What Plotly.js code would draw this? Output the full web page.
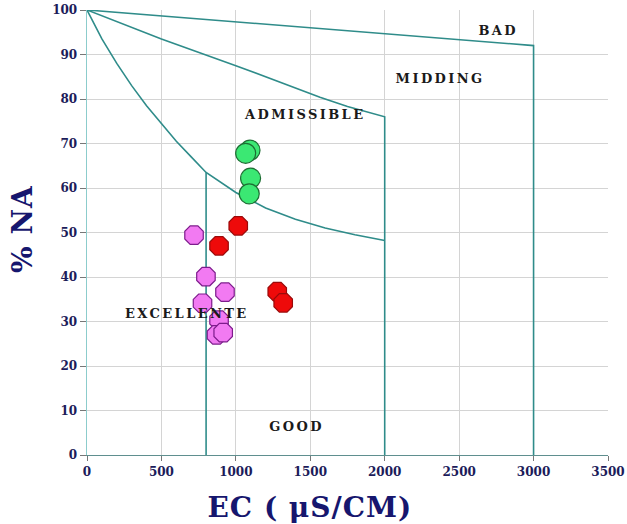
<!DOCTYPE html>
<html>
<head>
<meta charset="utf-8">
<script src="https://cdn.plot.ly/plotly-3.0.1.min.js"></script>
<style>
  html, body { margin: 0; padding: 0; background: #fff; }
  #chart { width: 627px; height: 524px; }
  .zone-label .annotation-text { letter-spacing: 2.4px; }
  .axis-label .annotation-text { letter-spacing: 1px; }
</style>
</head>
<body>
<div id="chart"></div>
<script>
// Wilcox-style classification: sodium percentage against electrical conductivity
const greenEC = [1095, 1066, 1099, 1090];
const greenNA = [68.5, 67.8, 62.2, 58.7];
const redEC = [1016, 887, 1278, 1318];
const redNA = [51.5, 47.0, 36.7, 34.2];
const violetEC = [719, 799, 927, 776, 887, 870, 915];
const violetNA = [49.4, 40.1, 36.6, 34.1, 30.3, 27.0, 27.5];

// class boundaries
const badEC = [0, 3000, 3000];
const badNA = [100, 92, 0];
const midEC = [0, 500, 1000, 1565, 1750, 2000, 2000];
const midNA = [100, 93.5, 87.5, 80.4, 78.3, 76, 0];
const admEC = [0, 100, 200, 300, 400, 500, 600, 700, 800, 1000, 1200, 1400, 1600, 1800, 2000];
const admNA = [100, 93.5, 88, 83, 78.5, 74.5, 70.5, 67, 63.5, 59, 55.5, 53, 51, 49.5, 48.2];
const excEC = [800, 800];
const excNA = [0, 63.5];

const zoneNames = ['BAD', 'MIDDING', 'ADMISSIBLE', 'EXCELLENTE', 'GOOD'];
const zoneEC = [2760, 2370, 1464, 672, 1404];
const zoneNA = [95.5, 84.7, 76.6, 31.7, 6.5];

const xTicks = [0, 500, 1000, 1500, 2000, 2500, 3000, 3500];
const yTicks = [0, 10, 20, 30, 40, 50, 60, 70, 80, 90, 100];

const lineColor = '#2f8c8a';
const serif = '"DejaVu Serif", "Liberation Serif", serif';

function boundary(x, y) {
  return { x: x, y: y, mode: 'lines', type: 'scatter', hoverinfo: 'skip',
           showlegend: false, line: { color: lineColor, width: 1.6 } };
}
function samples(x, y, symbol, fill, edge) {
  return { x: x, y: y, mode: 'markers', type: 'scatter', showlegend: false,
           marker: { symbol: symbol, size: 20, color: fill, line: { color: edge, width: 1.2 } } };
}

const data = [
  boundary(badEC, badNA),
  boundary(midEC, midNA),
  boundary(admEC, admNA),
  boundary(excEC, excNA),
  samples(greenEC, greenNA, 'circle', '#3be873', '#1d6e33'),
  samples(redEC, redNA, 'octagon', '#ee0a0a', '#9a0a0a'),
  samples(violetEC, violetNA, 'octagon', '#f27af2', '#7d1c8c')
];

const annotations = zoneNames.map((t, i) => ({
  x: zoneEC[i], y: zoneNA[i], xref: 'x', yref: 'y', text: t, showarrow: false,
  xanchor: 'center', yanchor: 'middle',
  font: { family: serif, size: 13, color: '#1a1a1a', weight: 'bold' }
}));
annotations.push({
  xref: 'paper', yref: 'paper', x: 0.428, y: -0.119, xanchor: 'center', yanchor: 'middle',
  text: 'EC ( \u03bcS/CM)', showarrow: false,
  font: { family: serif, size: 28, color: '#16166e', weight: 'bold' }
});
annotations.push({
  xref: 'paper', yref: 'paper', x: -0.125, y: 0.51, xanchor: 'center', yanchor: 'middle',
  text: '% NA', showarrow: false, textangle: -90,
  font: { family: serif, size: 28, color: '#16166e', weight: 'bold' }
});

const tickFont = { family: serif, size: 12, color: '#1c1c5a', weight: 'bold' };

const layout = {
  width: 627, height: 524,
  margin: { l: 87, r: 19, t: 10, b: 69 },
  paper_bgcolor: '#ffffff', plot_bgcolor: '#ffffff',
  xaxis: {
    range: [0, 3500], tickvals: xTicks, ticktext: xTicks.map(String),
    showgrid: true, gridcolor: '#d4d4d4', gridwidth: 1, zeroline: false,
    showline: true, linecolor: '#5f8f8f', linewidth: 1.2,
    ticks: 'outside', ticklen: 5, tickcolor: '#777', tickfont: tickFont
  },
  yaxis: {
    range: [0, 100], tickvals: yTicks, ticktext: yTicks.map(String),
    showgrid: true, gridcolor: '#d4d4d4', gridwidth: 1, zeroline: false,
    showline: true, linecolor: '#8ccccc', linewidth: 1.4,
    ticks: 'outside', ticklen: 6, tickcolor: '#777', tickfont: tickFont
  },
  annotations: annotations
};

Plotly.newPlot('chart', data, layout, { displayModeBar: false, staticPlot: true }).then(() => {
  document.querySelectorAll('.annotation').forEach((g, i) => {
    g.classList.add(i < zoneNames.length ? 'zone-label' : 'axis-label');
  });
});
</script>
</body>
</html>
